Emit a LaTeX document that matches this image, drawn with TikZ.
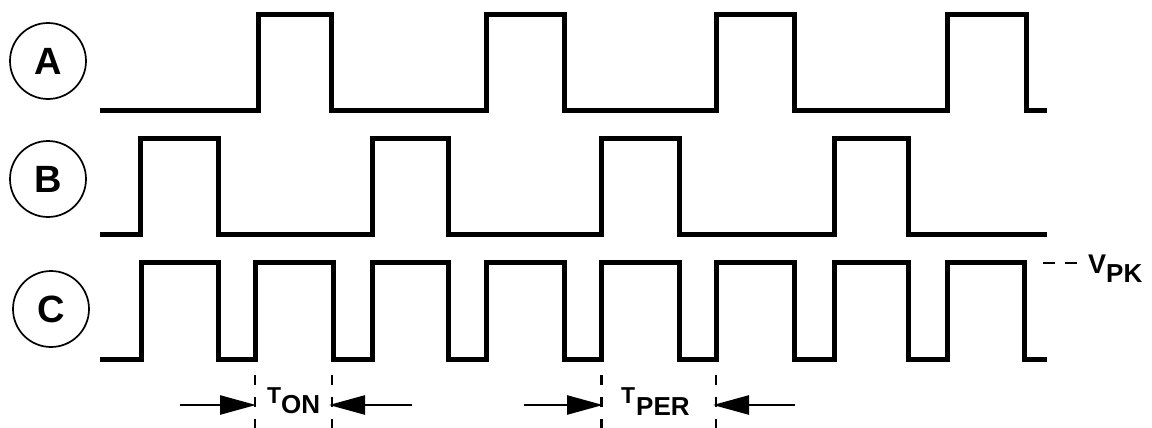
\documentclass[tikz,border=0pt]{standalone}
\usepackage{fontspec}
\setmainfont{Liberation Sans}
\usetikzlibrary{arrows.meta}
\begin{document}
\begin{tikzpicture}[x=1pt,y=-1pt,
  sig/.style={line width=5pt, line join=miter},
  lblcircle/.style={circle, draw, line width=1.7pt, minimum size=76pt, inner sep=0pt,
    font=\fontsize{38}{40}\selectfont\bfseries},
  guide/.style={line width=2.5pt, dash pattern=on 10pt off 12pt},
  dimarrow/.style={line width=2.5pt, -{Triangle[length=36pt,width=19pt]}},
  bigtxt/.style={anchor=base west, inner sep=0pt, font=\fontsize{23}{25}\selectfont\bfseries},
  subtxt/.style={anchor=base west, inner sep=0pt, font=\fontsize{26}{28}\selectfont\bfseries}]
\useasboundingbox (0,0) rectangle (1152,428);

% labels
\node[lblcircle] (labA) at (48,61) {A};
\node[lblcircle] (labB) at (48,179) {B};
\node[lblcircle] (labC) at (51,309) {C};

% waveform A
\draw[sig] (100,110) -| (258,15) -| (331,110) -| (486,15) -| (564,110)
  -| (716,15) -| (794,110) -| (947,15) -| (1026,110) -- (1047,110);
% waveform B
\draw[sig] (100,234) -| (140,138) -| (218,234) -| (372,138) -| (448,234)
  -| (601,138) -| (679,234) -| (834,138) -| (908,234) -- (1047,234);
% waveform C
\draw[sig] (100,359) -| (141,262) -| (218,359) -| (255,262) -| (333,359)
  -| (372,262) -| (448,359) -| (486,262) -| (564,359) -| (601,262)
  -| (679,359) -| (716,262) -| (794,359) -| (834,262) -| (908,359)
  -| (947,262) -| (1024,359) -- (1047,359);

% V_PK
\coordinate (vpkS) at (1043,263);
\coordinate (vpkE) at (1077,263);
\draw[line width=2pt, dash pattern=on 12pt off 10pt] (vpkS) -- (vpkE);
\node[subtxt, font=\fontsize{27}{29}\selectfont\bfseries] (vpkV) at (1088,273) {V};
\node[subtxt] (vpkPK) at (1106,282) {PK};

% guide lines
\coordinate (g1t) at (255,375); \coordinate (g1b) at (255,428);
\coordinate (g2t) at (332,375); \coordinate (g2b) at (332,428);
\coordinate (g3t) at (601.5,375); \coordinate (g3b) at (601.5,428);
\coordinate (g4t) at (716,375); \coordinate (g4b) at (716,428);
\draw[guide] (g1t) -- (g1b);
\draw[guide] (g2t) -- (g2b);
\draw[guide] (g3t) -- (g3b);
\draw[guide] (g4t) -- (g4b);

% T_ON arrows
\coordinate (a1s) at (180,405); \coordinate (a1e) at (256,405);
\coordinate (a2s) at (412,405); \coordinate (a2e) at (329,405);
\draw[dimarrow] (a1s) -- (a1e);
\draw[dimarrow] (a2s) -- (a2e);
\node[bigtxt] (tonT) at (267,403) {T};
\node[subtxt] (tonS) at (281,413) {ON};

% T_PER arrows
\coordinate (a3s) at (524,405); \coordinate (a3e) at (603,405);
\coordinate (a4s) at (795,405); \coordinate (a4e) at (713,405);
\draw[dimarrow] (a3s) -- (a3e);
\draw[dimarrow] (a4s) -- (a4e);
\node[bigtxt] (tperT) at (621,403) {T};
\node[subtxt] (tperS) at (636,415) {PER};
\end{tikzpicture}
\end{document}
